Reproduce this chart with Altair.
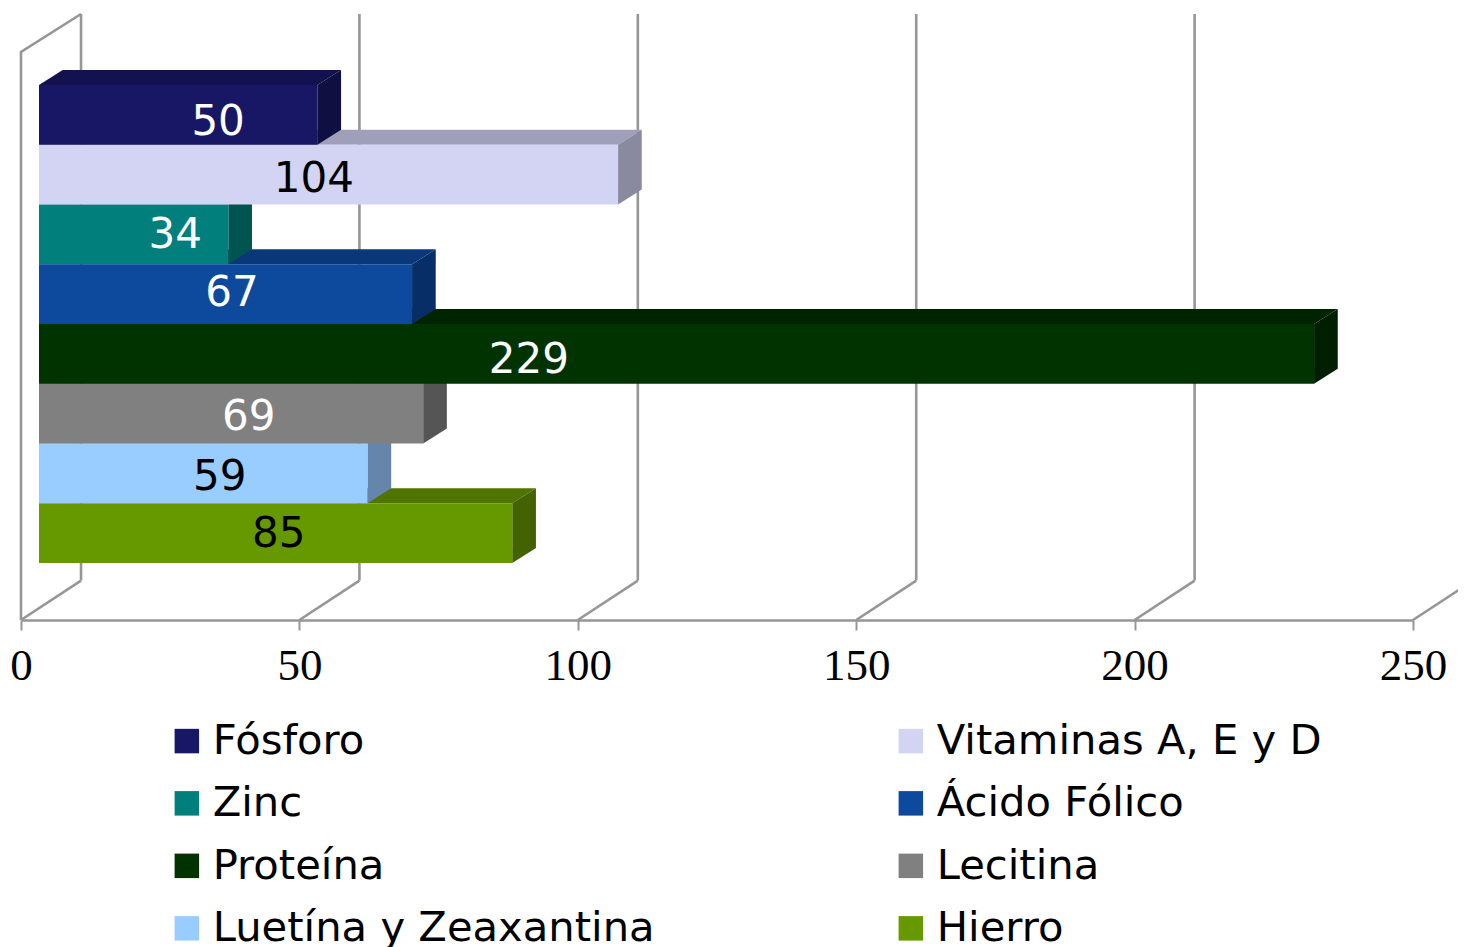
import altair as alt
import pandas as pd

nutrients = ["Fósforo", "Vitaminas A, E y D", "Zinc", "Ácido Fólico", "Proteína", "Lecitina", "Luetína y Zeaxantina", "Hierro"]
values = [50, 104, 34, 67, 229, 69, 59, 85]
front_colors = ["#171765", "#d3d3f4", "#007f7c", "#0d4a9e", "#003300", "#808080", "#99ccff", "#669900"]
top_colors = ["#12124f", "#9f9fb9", "#005f5c", "#0a377a", "#002400", "#606060", "#7399bf", "#507400"]
side_colors = ["#0f0f42", "#8989a0", "#005450", "#082e68", "#001f00", "#555555", "#6685aa", "#426300"]
label_colors = ["white", "black", "white", "white", "white", "white", "black", "black"]
label_x = [35.4, 52.6, 27.7, 37.9, 91.2, 40.9, 35.7, 46.3]
label_y = [0.625, 1.575, 2.515, 3.485, 4.605, 5.555, 6.565, 7.515]
ticks = [0, 50, 100, 150, 200, 250]

BASE = 3.233
DX, DY = 4.25, 0.251
WALL_X, WALL_Y = 10.78, 0.66
FLOOR, WALL_TOP, BACK_TOP = 8.954, -0.552, -1.188
LAST_X = 260.8

x_scale = alt.Scale(domain=[0, 250], range=[13, 1405], nice=False, zero=False)
y_scale = alt.Scale(domain=[0, 8], range=[77, 555], nice=False, zero=False)
GRID = "#969696"
x_axis = alt.Axis(
    values=ticks, format="d", grid=False, orient="bottom", offset=-327,
    domainColor=GRID, domainWidth=2.6, tickColor=GRID, tickWidth=2, tickSize=10,
    labelFont="Liberation Serif", labelFontSize=45, labelColor="black",
    labelPadding=13, labelFlush=False, labelOverlap=False, labelBound=False)

rows = []
sid = 0
for t in ticks:
    rows += [dict(s=sid, k=0, x=t, y=FLOOR), dict(s=sid, k=1, x=min(t + WALL_X, LAST_X), y=FLOOR - WALL_Y)]
    sid += 1
    if t < 250:
        rows += [dict(s=sid, k=0, x=t + WALL_X, y=FLOOR - WALL_Y), dict(s=sid, k=1, x=t + WALL_X, y=BACK_TOP)]
        sid += 1
rows += [dict(s=sid, k=0, x=0, y=FLOOR), dict(s=sid, k=1, x=0, y=WALL_TOP), dict(s=sid, k=2, x=WALL_X, y=BACK_TOP)]

X = alt.X("x:Q", scale=x_scale, title=None, axis=x_axis)
Y = alt.Y("y:Q", scale=y_scale, axis=None)

walls = alt.Chart(pd.DataFrame(rows)).mark_line(color=GRID, strokeWidth=2.6, interpolate="linear").encode(
    x=X, y=Y, detail="s:N", order="k:Q")

layers = [walls]
for i in reversed(range(len(values))):
    end = values[i] + BASE
    top_df = pd.DataFrame([
        dict(y=i, x=BASE, x2=end),
        dict(y=i - DY, x=BASE + DX, x2=end + DX),
    ])
    side_df = pd.DataFrame([
        dict(x=end, y=i, y2=i + 1),
        dict(x=end + DX, y=i - DY, y2=i + 1 - DY),
    ])
    front_df = pd.DataFrame([dict(n=nutrients[i], x=BASE, x2=end, y=i, y2=i + 1)])
    layers.append(alt.Chart(top_df).mark_area(color=top_colors[i], orient="horizontal", interpolate="linear").encode(
        y=Y, x=X, x2="x2:Q"))
    layers.append(alt.Chart(side_df).mark_area(color=side_colors[i], orient="vertical", interpolate="linear").encode(
        x=X, y=Y, y2="y2:Q"))
    layers.append(alt.Chart(front_df).mark_rect().encode(
        x=X, x2="x2:Q", y=Y, y2="y2:Q",
        color=alt.Color("n:N", scale=alt.Scale(domain=nutrients, range=front_colors), sort=nutrients,
                        legend=alt.Legend(title=None, orient="none", legendX=158, legendY=712, columns=2,
                                          direction="horizontal", symbolType="square", symbolSize=600,
                                          symbolStrokeWidth=0, symbolOpacity=1, labelFont="DejaVu Sans",
                                          labelFontSize=41.7, labelColor="black", labelOffset=5,
                                          labelLimit=700, rowPadding=19.5, columnPadding=235,
                                          gridAlign="all"))))

for i in range(len(values)):
    layers.append(alt.Chart(pd.DataFrame([dict(x=label_x[i], y=label_y[i], t=str(values[i]))])).mark_text(
        font="DejaVu Sans", fontSize=42, color=label_colors[i], align="center", baseline="middle").encode(
        x=X, y=Y, text="t:N"))

chart = alt.layer(*layers).properties(
    width=1450, height=939, padding=0, autosize=alt.AutoSizeParams(type="none"), background="white"
).configure_view(stroke=None)

chart.save("out.html", embed_options={"renderer": "svg", "actions": False})
